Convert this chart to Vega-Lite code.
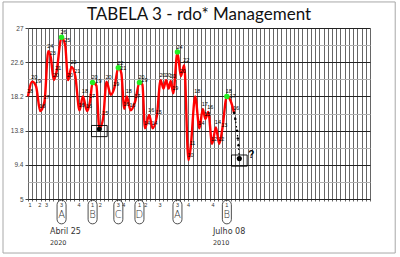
{
  "$schema": "https://vega.github.io/schema/vega-lite/v6.json",
  "width": 342,
  "height": 171,
  "autosize": {"type": "none"},
  "padding": {"left": 28, "top": 28, "right": 30, "bottom": 58},
  "background": "white",
  "config": {"view": {"stroke": null}, "font": "Liberation Sans"},
  "title": {"text": "TABELA 3 - rdo* Management", "font": "Lato", "fontSize": 17, "fontWeight": "normal", "anchor": "middle", "offset": 6, "dy": 29, "color": "#111"},
  "datasets": {
    "main": [
      {"x": 0, "y": 18.2, "t": "18"},
      {"x": 1.0, "y": 20.1, "t": "20"},
      {"x": 1.9, "y": 19.5, "t": "19"},
      {"x": 2.9, "y": 16.3, "t": "16"},
      {"x": 3.9, "y": 17.5, "t": "17"},
      {"x": 4.8, "y": 24.0, "t": "24"},
      {"x": 5.4, "y": 23.2, "t": "23"},
      {"x": 6.1, "y": 20.3, "t": "20"},
      {"x": 6.7, "y": 21.2, "t": "21"},
      {"x": 7.95, "y": 25.8, "t": "26", "g": true},
      {"x": 8.8, "y": 24.8, "t": "25"},
      {"x": 9.5, "y": 20.3, "t": "20"},
      {"x": 10.3, "y": 22.0, "t": "22"},
      {"x": 11.2, "y": 20.8, "t": "21"},
      {"x": 12.2, "y": 16.4, "t": "16"},
      {"x": 13.0, "y": 18.2, "t": "18"},
      {"x": 14.0, "y": 16.3, "t": "16"},
      {"x": 14.7, "y": 17.6, "t": "17"},
      {"x": 15.3, "y": 20.0, "t": "20", "g": true},
      {"x": 16.2, "y": 19.6, "t": "19"},
      {"x": 16.9, "y": 14.0, "t": ""},
      {"x": 17.8, "y": 15.4, "t": "15"},
      {"x": 18.6, "y": 20.1, "t": "20"},
      {"x": 19.6, "y": 18.4, "t": ""},
      {"x": 20.4, "y": 19.2, "t": "19"},
      {"x": 21.4, "y": 21.9, "t": "22", "g": true},
      {"x": 22.1, "y": 21.2, "t": "21"},
      {"x": 22.8, "y": 16.6, "t": "16"},
      {"x": 23.4, "y": 18.2, "t": "18"},
      {"x": 24.3, "y": 16.4, "t": "16"},
      {"x": 25.4, "y": 17.6, "t": "17"},
      {"x": 26.4, "y": 20.0, "t": "20", "g": true},
      {"x": 27.1, "y": 19.7, "t": "19"},
      {"x": 27.7, "y": 14.1, "t": "14"},
      {"x": 28.7, "y": 15.8, "t": "16"},
      {"x": 29.5, "y": 14.1, "t": "14"},
      {"x": 30.5, "y": 15.6, "t": "15"},
      {"x": 31.4, "y": 20.3, "t": "20"},
      {"x": 32.1, "y": 19.2, "t": ""},
      {"x": 32.7, "y": 20.3, "t": "20"},
      {"x": 33.3, "y": 19.2, "t": ""},
      {"x": 33.8, "y": 20.2, "t": "20"},
      {"x": 34.4, "y": 18.6, "t": "19"},
      {"x": 35.4, "y": 23.9, "t": "24", "g": true},
      {"x": 36.2, "y": 20.8, "t": "20"},
      {"x": 37.0, "y": 22.2, "t": "22"},
      {"x": 38.0, "y": 10.0, "t": "10"},
      {"x": 38.5, "y": 11.5, "t": "11"},
      {"x": 39.6, "y": 18.2, "t": "18"},
      {"x": 40.6, "y": 14.1, "t": "14"},
      {"x": 41.4, "y": 16.6, "t": "17"},
      {"x": 42.0, "y": 15.3, "t": "15"},
      {"x": 42.7, "y": 16.2, "t": "16"},
      {"x": 43.6, "y": 12.1, "t": "12"},
      {"x": 44.5, "y": 14.2, "t": "14"},
      {"x": 45.3, "y": 12.1, "t": "12"},
      {"x": 46.0, "y": 13.9, "t": "13"},
      {"x": 47.1, "y": 18.2, "t": "18", "g": true},
      {"x": 48.0, "y": 17.6, "t": "17"},
      {"x": 48.8, "y": 16.1, "t": "16"}
    ],
    "proj": [
      {"x": 48.8, "y": 16.1},
      {"x": 49.1, "y": 15.3},
      {"x": 49.5, "y": 13.8},
      {"x": 49.7, "y": 12.8},
      {"x": 49.85, "y": 11.9},
      {"x": 50.05, "y": 10.2}
    ],
    "dots": [
      {"x": 16.9, "y": 14.0, "note": ""},
      {"x": 50.05, "y": 10.2, "note": "?"}
    ],
    "ticks": [
      {"x": 0.5, "n": "1"},
      {"x": 2.8, "n": "2"},
      {"x": 4.4, "n": "3"},
      {"x": 7.95, "n": "3", "c": "A"},
      {"x": 12.1, "n": "4"},
      {"x": 15.3, "n": "1", "c": "B"},
      {"x": 17.1, "n": "2"},
      {"x": 21.4, "n": "3", "c": "C"},
      {"x": 22.7, "n": "4"},
      {"x": 26.4, "n": "1", "c": "D"},
      {"x": 27.9, "n": "2"},
      {"x": 31.3, "n": "3"},
      {"x": 35.4, "n": "3", "c": "A"},
      {"x": 38.0, "n": "4"},
      {"x": 43.8, "n": "4"},
      {"x": 47.1, "n": "1", "c": "B"}
    ],
    "notes": [
      {"x": 5.2, "a": "Abril 25", "b": "2020"},
      {"x": 43.8, "a": "Julho 08", "b": "2010"}
    ]
  },
  "encoding": {
    "x": {"type": "quantitative", "scale": {"domain": [0, 81], "nice": false, "zero": false, "padding": 0},
      "axis": {"title": null, "values": [0,1,2,3,4,5,6,7,8,9,10,11,12,13,14,15,16,17,18,19,20,21,22,23,24,25,26,27,28,29,30,31,32,33,34,35,36,37,38,39,40,41,42,43,44,45,46,47,48,49,50,51,52,53,54,55,56,57,58,59,60,61,62,63,64,65,66,67,68,69,70,71,72,73,74,75,76,77,78,79,80,81],
        "labels": false, "grid": true, "gridColor": "#666", "gridWidth": 1, "gridOpacity": 1,
        "ticks": true, "tickSize": 2, "tickColor": "#666", "domain": true, "domainColor": "#222", "domainWidth": 1}},
    "y": {"type": "quantitative", "scale": {"domain": [5, 27], "nice": false, "zero": false, "padding": 0},
      "axis": {"title": null, "values": [5, 7.2, 9.4, 11.6, 13.8, 16, 18.2, 20.4, 22.6, 24.8, 27],
        "grid": true, "gridOpacity": 1, "gridWidth": 1,
        "gridColor": {"condition": {"test": "datum.value == 5 || datum.value == 9.4 || datum.value == 13.8 || datum.value == 18.2 || datum.value == 22.6 || datum.value == 27", "value": "#222"}, "value": "#b0b0b0"},
        "labelExpr": "(datum.value == 5 || datum.value == 9.4 || datum.value == 13.8 || datum.value == 18.2 || datum.value == 22.6 || datum.value == 27) ? ('' + datum.value) : ''",
        "labelFontSize": 6.5, "labelColor": "#444", "labelPadding": 2,
        "tickSize": 3, "tickColor": {"condition": {"test": "datum.value == 5 || datum.value == 9.4 || datum.value == 13.8 || datum.value == 18.2 || datum.value == 22.6 || datum.value == 27", "value": "#444"}, "value": "transparent"},
        "domain": false}}
  },
  "layer": [
    {
      "data": {"values": [{}]},
      "mark": {"type": "rect", "fill": null, "stroke": "#a8a8a8", "strokeWidth": 1},
      "encoding": {
        "x": {"datum": -5.92, "type": "quantitative"},
        "x2": {"datum": 86.97},
        "y": {"datum": 30.35, "type": "quantitative"},
        "y2": {"datum": -1.95}
      }
    },
    {
      "data": {"name": "main"},
      "mark": {"type": "line", "color": "#ff0000", "strokeWidth": 2.4, "interpolate": "monotone"},
      "encoding": {
        "x": {"field": "x", "type": "quantitative"},
        "y": {"field": "y", "type": "quantitative"}
      }
    },
    {
      "data": {"name": "proj"},
      "mark": {"type": "line", "color": "#000", "strokeWidth": 1.2, "strokeDash": [1.5, 3]},
      "encoding": {
        "x": {"field": "x", "type": "quantitative"},
        "y": {"field": "y", "type": "quantitative"}
      }
    },
    {
      "data": {"name": "proj"},
      "mark": {"type": "point", "filled": true, "color": "#000", "size": 6, "opacity": 1},
      "encoding": {
        "x": {"field": "x", "type": "quantitative"},
        "y": {"field": "y", "type": "quantitative"}
      }
    },
    {
      "data": {"name": "main"},
      "transform": [{"filter": "datum.g"}],
      "mark": {"type": "point", "filled": true, "color": "#22ee22", "size": 30, "opacity": 1},
      "encoding": {
        "x": {"field": "x", "type": "quantitative"},
        "y": {"field": "y", "type": "quantitative"}
      }
    },
    {
      "data": {"name": "dots"},
      "mark": {"type": "point", "filled": true, "color": "#000", "size": 26, "opacity": 1},
      "encoding": {
        "x": {"field": "x", "type": "quantitative"},
        "y": {"field": "y", "type": "quantitative"}
      }
    },
    {
      "data": {"name": "dots"},
      "mark": {"type": "point", "shape": "M-1.4,-1H1.4V1H-1.4Z", "filled": false, "stroke": "#000", "strokeWidth": 0.9, "size": 125, "opacity": 1, "yOffset": 2},
      "encoding": {
        "x": {"field": "x", "type": "quantitative"},
        "y": {"field": "y", "type": "quantitative"}
      }
    },
    {
      "data": {"name": "dots"},
      "mark": {"type": "text", "fontSize": 10, "fontWeight": "bold", "color": "#000", "dx": 12, "dy": -4},
      "encoding": {
        "x": {"field": "x", "type": "quantitative"},
        "y": {"field": "y", "type": "quantitative"},
        "text": {"field": "note"}
      }
    },
    {
      "data": {"name": "main"},
      "transform": [{"filter": "datum.t != ''"}],
      "mark": {"type": "text", "fontSize": 5.5, "color": "#000", "dx": 2, "dy": -5},
      "encoding": {
        "x": {"field": "x", "type": "quantitative"},
        "y": {"field": "y", "type": "quantitative"},
        "text": {"field": "t"}
      }
    },
    {
      "data": {"name": "ticks"},
      "mark": {"type": "text", "fontSize": 5.5, "color": "#333"},
      "encoding": {
        "x": {"field": "x", "type": "quantitative"},
        "y": {"datum": 4.2, "type": "quantitative"},
        "text": {"field": "n"}
      }
    },
    {
      "data": {"name": "ticks"},
      "transform": [{"filter": "datum.c"}],
      "mark": {"type": "text", "fontSize": 10, "font": "DejaVu Sans", "fontWeight": 200, "color": "#333"},
      "encoding": {
        "x": {"field": "x", "type": "quantitative"},
        "y": {"datum": 2.95, "type": "quantitative"},
        "text": {"field": "c"}
      }
    },
    {
      "data": {"name": "ticks"},
      "transform": [{"filter": "datum.c"}],
      "mark": {"type": "bar", "width": 9, "cornerRadius": 4.5, "fill": null, "stroke": "#222", "strokeWidth": 0.8},
      "encoding": {
        "x": {"field": "x", "type": "quantitative"},
        "y": {"datum": 4.85, "type": "quantitative"},
        "y2": {"datum": 1.8}
      }
    },
    {
      "data": {"name": "notes"},
      "mark": {"type": "text", "fontSize": 8, "align": "left", "color": "#333", "font": "DejaVu Sans"},
      "encoding": {
        "x": {"field": "x", "type": "quantitative"},
        "y": {"datum": 0.75, "type": "quantitative"},
        "text": {"field": "a"}
      }
    },
    {
      "data": {"name": "notes"},
      "mark": {"type": "text", "fontSize": 6.5, "align": "left", "color": "#333", "font": "DejaVu Sans"},
      "encoding": {
        "x": {"field": "x", "type": "quantitative"},
        "y": {"datum": -0.66, "type": "quantitative"},
        "text": {"field": "b"}
      }
    }
  ]
}
